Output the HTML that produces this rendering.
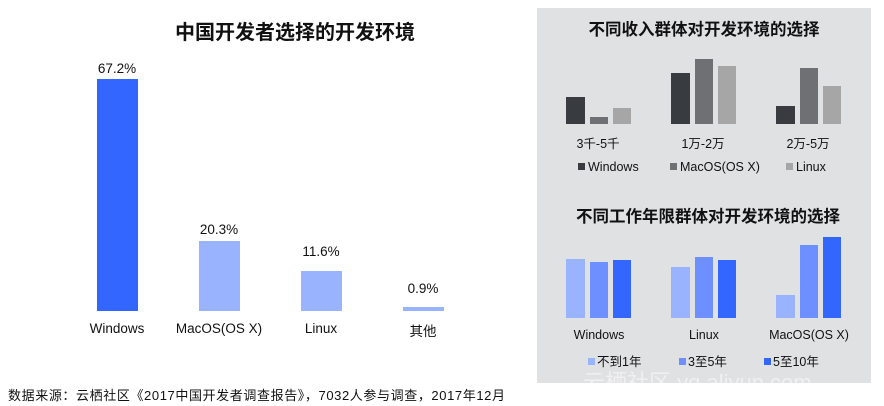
<!DOCTYPE html>
<html><head><meta charset="utf-8"><style>
body{margin:0;background:#fff;}
svg{display:block;font-family:"Liberation Sans","Noto Sans CJK SC",sans-serif;}
</style></head><body>
<svg width="884" height="406" viewBox="0 0 884 406">
<rect x="537" y="8" width="334" height="375" fill="#e0e1e3"/>
<text x="295" y="39" font-size="20" font-weight="bold" text-anchor="middle" fill="#111">中国开发者选择的开发环境</text>
<g fill="#111" font-size="13.5" text-anchor="middle">
<rect x="97" y="79" width="41" height="232" fill="#3366ff"/>
<rect x="199" y="241" width="41" height="70" fill="#99b3ff"/>
<rect x="301" y="271" width="41" height="40" fill="#99b3ff"/>
<rect x="403" y="307" width="41" height="4" fill="#99b3ff"/>
<text x="117" y="73">67.2%</text>
<text x="219" y="234">20.3%</text>
<text x="321" y="256">11.6%</text>
<text x="423" y="293">0.9%</text>
<text x="117" y="333">Windows</text>
<text x="219" y="333">MacOS(OS X)</text>
<text x="321" y="333">Linux</text>
<text x="423" y="336">其他</text>
</g>
<text x="8" y="400" font-size="13" fill="#111" textLength="497" lengthAdjust="spacing">数据来源：云栖社区《2017中国开发者调查报告》，7032人参与调查，2017年12月</text>
<text x="704" y="35" font-size="16.5" font-weight="bold" text-anchor="middle" fill="#111">不同收入群体对开发环境的选择</text>
<rect x="566" y="97" width="19" height="27" fill="#383c40"/>
<rect x="590" y="117" width="18" height="7" fill="#6e7073"/>
<rect x="613" y="108" width="18" height="16" fill="#a6a6a6"/>
<rect x="671" y="73" width="19" height="51" fill="#383c40"/>
<rect x="695" y="59" width="18" height="65" fill="#6e7073"/>
<rect x="718" y="66" width="18" height="58" fill="#a6a6a6"/>
<rect x="776" y="106" width="19" height="18" fill="#383c40"/>
<rect x="800" y="68" width="18" height="56" fill="#6e7073"/>
<rect x="823" y="86" width="18" height="38" fill="#a6a6a6"/>
<g font-size="12.5" fill="#111" text-anchor="middle">
<text x="598" y="148">3千-5千</text>
<text x="703" y="148">1万-2万</text>
<text x="808" y="148">2万-5万</text>
</g>
<g font-size="12.5" fill="#111">
<rect x="578" y="163" width="7" height="7" fill="#383c40"/><text x="588" y="171">Windows</text>
<rect x="670" y="163" width="7" height="7" fill="#6e7073"/><text x="680" y="171">MacOS(OS X)</text>
<rect x="786" y="163" width="7" height="7" fill="#a6a6a6"/><text x="796" y="171">Linux</text>
</g>
<text x="708" y="222" font-size="16.5" font-weight="bold" text-anchor="middle" fill="#111">不同工作年限群体对开发环境的选择</text>
<rect x="566" y="259" width="19" height="59" fill="#99b3ff"/>
<rect x="590" y="262" width="18" height="56" fill="#6e8fff"/>
<rect x="613" y="260" width="18" height="58" fill="#3366ff"/>
<rect x="671" y="267" width="19" height="51" fill="#99b3ff"/>
<rect x="695" y="257" width="18" height="61" fill="#6e8fff"/>
<rect x="718" y="260" width="18" height="58" fill="#3366ff"/>
<rect x="776" y="295" width="19" height="23" fill="#99b3ff"/>
<rect x="800" y="245" width="18" height="73" fill="#6e8fff"/>
<rect x="823" y="237" width="18" height="81" fill="#3366ff"/>
<g font-size="12.5" fill="#111" text-anchor="middle">
<text x="599" y="339">Windows</text>
<text x="704" y="339">Linux</text>
<text x="809" y="339">MacOS(OS X)</text>
</g>
<g font-size="12.5" fill="#111">
<rect x="588" y="358" width="7" height="7" fill="#99b3ff"/><text x="597" y="366">不到1年</text>
<rect x="679" y="358" width="7" height="7" fill="#6e8fff"/><text x="688" y="366">3至5年</text>
<rect x="764" y="358" width="7" height="7" fill="#3366ff"/><text x="773" y="366">5至10年</text>
</g>
<text x="583" y="390" font-size="22" fill="#ffffff" fill-opacity="0.5">云栖社区 yq.aliyun.com</text>
</svg>
</body></html>
